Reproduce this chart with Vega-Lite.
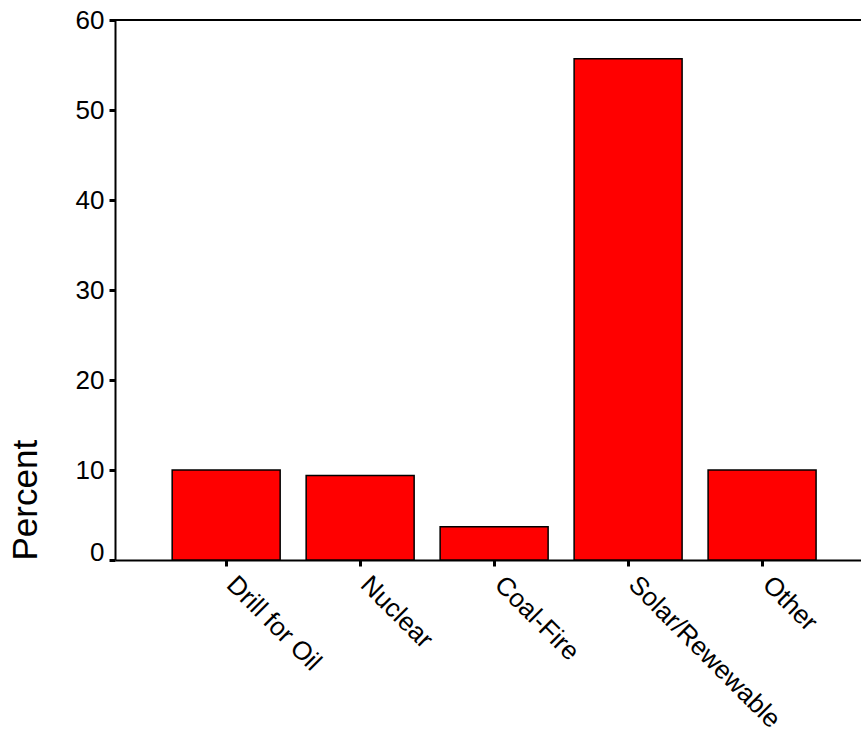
{
  "$schema": "https://vega.github.io/schema/vega-lite/v6.json",
  "width": 746,
  "height": 540,
  "autosize": {"type": "none"},
  "padding": {"left": 115, "top": 20, "right": 0, "bottom": 176},
  "background": "white",
  "config": {
    "view": {"stroke": null},
    "font": "Liberation Sans",
    "axis": {"grid": false, "domainColor": "black", "tickColor": "black", "labelColor": "black", "titleColor": "black", "labelFont": "Liberation Sans", "titleFont": "Liberation Sans"}
  },
  "data": {
    "values": [
      {"category": "Drill for Oil", "percent": 10.0},
      {"category": "Nuclear", "percent": 9.4},
      {"category": "Coal-Fire", "percent": 3.7},
      {"category": "Solar/Rewewable", "percent": 55.7},
      {"category": "Other", "percent": 10.0}
    ]
  },
  "layer": [
    {
      "mark": {"type": "bar", "color": "#FF0000", "stroke": "black", "strokeWidth": 1.5},
      "encoding": {
        "x": {
          "field": "category",
          "type": "nominal",
          "sort": null,
          "scale": {"paddingInner": 0.194, "paddingOuter": 0.381, "align": 0.56},
          "axis": {
            "title": null,
            "labelAngle": 45,
            "labelFontSize": 26,
            "labelPadding": 5,
            "labelOffset": 14,
            "tickSize": 6,
            "tickWidth": 3,
            "domainWidth": 2,
            "labelLimit": 400
          }
        },
        "y": {
          "field": "percent",
          "type": "quantitative",
          "scale": {"domain": [0, 60], "nice": false},
          "axis": {
            "title": "Percent",
            "titleFontSize": 35,
            "titleFontWeight": "normal",
            "titleAnchor": "start",
            "titlePadding": 32,
            "values": [0, 10, 20, 30, 40, 50, 60],
            "labelFontSize": 26,
            "labelPadding": 5,
            "labelBaseline": {"condition": {"test": "datum.value == 0", "value": "alphabetic"}, "value": "middle"},
            "tickSize": 6,
            "tickWidth": 3,
            "domainWidth": 2
          }
        }
      }
    },
    {
      "mark": {"type": "rule", "color": "black", "strokeWidth": 2},
      "encoding": {"y": {"datum": 60}}
    }
  ]
}
